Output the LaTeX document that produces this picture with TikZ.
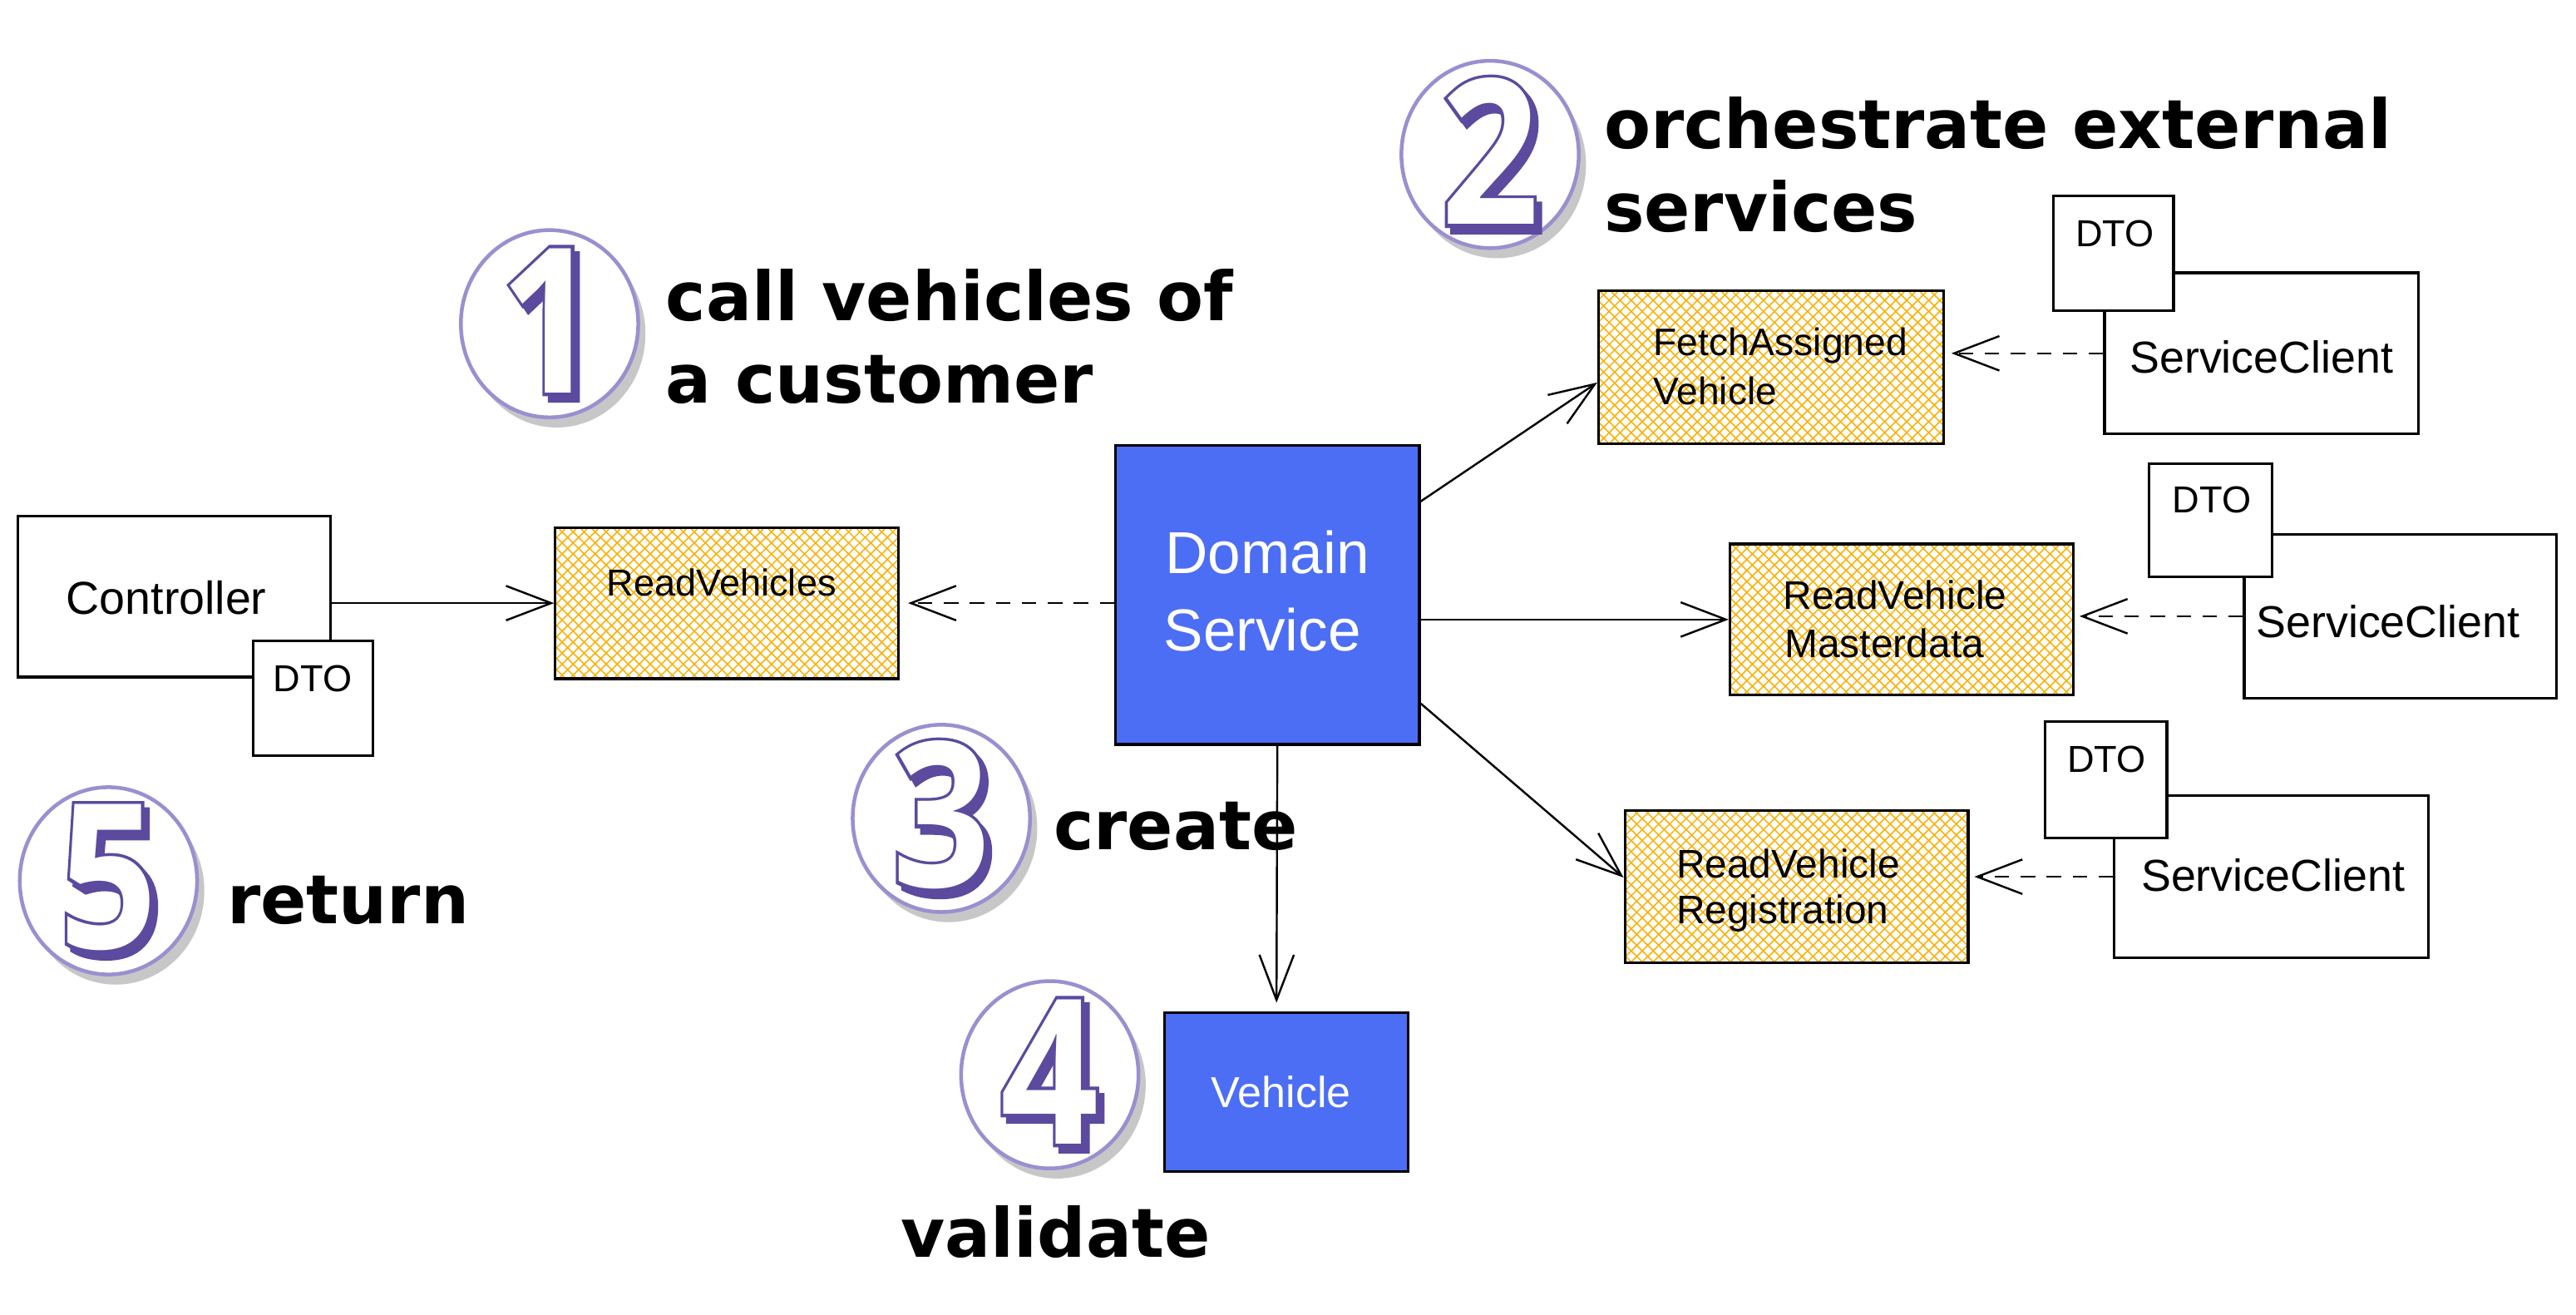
\documentclass[tikz,border=0pt]{standalone}
\usepackage{fontspec}
\setmainfont{Liberation Sans}
\newfontfamily\headfont{DejaVu Sans}
\newfontfamily\digreg{Open Sans}
\newfontfamily\digfat{Open Sans}[FakeBold=3.5]
\usetikzlibrary{arrows.meta,patterns.meta,shapes.geometric,shadows,calc}
\definecolor{dsblue}{RGB}{76,110,245}
\definecolor{hatchc}{RGB}{250,176,5}
\definecolor{ringc}{RGB}{155,143,208}
\definecolor{dpurple}{RGB}{91,74,158}
\newcommand\hwsize[1]{\fontsize{#1}{#1}\selectfont}
\newcommand\bigdigit[1]{\scalebox{0.85}[1]{\digreg\bfseries\fontsize{70}{70}\selectfont
  \makebox[0pt][l]{\kern2.2pt\raisebox{-2.2pt}{\color{dpurple}\digfat\bfseries #1}}%
  \makebox[0pt][l]{\color{dpurple}\digfat\bfseries #1}%
  {\color{white}\digreg\bfseries #1}}}
\begin{document}
\begin{tikzpicture}[x=0.02cm,y=-0.02cm,
  box/.style={draw=black, line width=0.9pt, fill=white, inner sep=0pt},
  hatchbox/.style={draw=black, line width=0.9pt, inner sep=0pt,
     preaction={pattern={Lines[angle=45,distance=2.7pt,line width=0.45pt]}, pattern color=hatchc},
     preaction={pattern={Lines[angle=-45,distance=2.7pt,line width=0.45pt]}, pattern color=hatchc}},
  bluebox/.style={draw=black, line width=0.9pt, fill=dsblue, inner sep=0pt},
  ring/.style={ellipse, draw=ringc, line width=1.3pt, fill=white, inner sep=0pt,
     minimum width=2.16cm, minimum height=2.28cm,
     drop shadow={shadow xshift=2.5pt, shadow yshift=-3.5pt, opacity=0.22, fill=black}},
  head/.style={anchor=base west, inner sep=0pt, font=\headfont\bfseries\fontsize{23.5}{28}\selectfont},
  hw/.style={anchor=base west, inner sep=0pt},
  arr/.style={line width=0.7pt, -{Straight Barb[length=0.55cm,width=0.42cm,line width=0.7pt]}},
  darr/.style={arr, dash pattern=on 5pt off 4pt}
]
\useasboundingbox (0,0) rectangle (1568,800);

% ---- boxes ----
\node[box, minimum width=3.8cm, minimum height=1.96cm] (ctrl) at (106,363) {};
\node[box, minimum width=1.46cm, minimum height=1.4cm] (dto0) at (190.5,425) {};
\node[hatchbox, minimum width=4.18cm, minimum height=1.84cm] (rv) at (442.5,367) {};
\node[bluebox, minimum width=3.7cm, minimum height=3.64cm] (ds) at (771.5,362) {};
\node[bluebox, minimum width=2.96cm, minimum height=1.94cm] (veh) at (783,664.5) {};
\node[hatchbox, minimum width=4.2cm, minimum height=1.86cm] (fav) at (1078,223.5) {};
\node[box, minimum width=3.82cm, minimum height=1.96cm] (sc1) at (1376.5,215) {};
\node[box, minimum width=1.46cm, minimum height=1.4cm] (dto1) at (1286.5,154) {};
\node[hatchbox, minimum width=4.18cm, minimum height=1.84cm] (rvm) at (1157.5,377) {};
\node[box, minimum width=3.8cm, minimum height=2.0cm] (sc2) at (1461,375) {};
\node[box, minimum width=1.5cm, minimum height=1.38cm] (dto2) at (1345.5,316.5) {};
\node[hatchbox, minimum width=4.18cm, minimum height=1.86cm] (rvr) at (1093.5,539.5) {};
\node[box, minimum width=3.82cm, minimum height=1.98cm] (sc3) at (1382.5,533.5) {};
\node[box, minimum width=1.48cm, minimum height=1.42cm] (dto3) at (1282,474.5) {};

% ---- box labels ----
\node[hw, font=\hwsize{16}] (lctrl) at (40,374) {Controller};
\node[hw, font=\hwsize{13}] (ldto0) at (166,421) {DTO};
\node[hw, font=\hwsize{13}] (lrv) at (369,362.6) {ReadVehicles};
\node[hw, font=\hwsize{20.5}, text=white] (lds1) at (709,349) {Domain};
\node[hw, font=\hwsize{20.5}, text=white] (lds2) at (708,396) {Service};
\node[hw, font=\hwsize{15}, text=white] (lveh) at (737,674) {Vehicle};
\node[hw, font=\hwsize{13.3}] (lfav1) at (1006,216.6) {FetchAssigned};
\node[hw, font=\hwsize{13.3}] (lfav2) at (1006,246) {Vehicle};
\node[hw, font=\hwsize{13}] (ldto1) at (1263,150) {DTO};
\node[hw, font=\hwsize{15.5}] (lsc1) at (1296,227) {ServiceClient};
\node[hw, font=\hwsize{13}] (ldto2) at (1322,311.8) {DTO};
\node[hw, font=\hwsize{13.8}] (lrvm1) at (1085,370.6) {ReadVehicle};
\node[hw, font=\hwsize{13.8}] (lrvm2) at (1086,400) {Masterdata};
\node[hw, font=\hwsize{15.5}] (lsc2) at (1373,387.7) {ServiceClient};
\node[hw, font=\hwsize{13}] (ldto3) at (1258,470) {DTO};
\node[hw, font=\hwsize{13.8}] (lrvr1) at (1020,534) {ReadVehicle};
\node[hw, font=\hwsize{13.8}] (lrvr2) at (1020,562) {Registration};
\node[hw, font=\hwsize{15.5}] (lsc3) at (1303,542.5) {ServiceClient};

% ---- step circles ----
\foreach \n/\cx/\cy in {1/334.5/197, 2/907/94, 3/573/498, 4/639/654, 5/66/536}{
  \node[ring] (c\n) at (\cx,\cy) {};
  \node[inner sep=0pt] (d\n) at (c\n) {\bigdigit{\n}};
}

% ---- headings ----
\node[head] (t1a) at (405,195) {call vehicles of};
\node[head] (t1b) at (405,245) {a customer};
\node[head] (t2a) at (976,90.6) {orchestrate external};
\node[head] (t2b) at (976,141) {services};
\node[head] (t3) at (641,517) {create};
\node[head] (t4) at (548,765) {validate};
\node[head] (t5) at (138,562) {return};

% ---- connectors ----
\draw[arr] (rv.west -| ctrl.east) -- (rv.west);
\draw[darr] (rv.east -| ds.west) -- ([xshift=0.1cm]rv.east);
\draw[arr] ($(ds.north east)!0.19!(ds.south east)$) -- (fav.185);
\draw[arr] (ds.east |- rvm.west) -- (rvm.west);
\draw[arr] ($(ds.north east)!0.86!(ds.south east)$) -- (rvr.177);
\draw[arr] ([xshift=0.12cm]ds.south) -- ([xshift=-0.12cm, yshift=0.1cm]veh.north);
\draw[darr] (sc1.west) -- ([xshift=0.08cm]sc1.west -| fav.east);
\draw[darr] (sc2.west) -- ([xshift=0.06cm]sc2.west -| rvm.east);
\draw[darr] (sc3.west) -- ([xshift=0.06cm]sc3.west -| rvr.east);
\end{tikzpicture}
\end{document}
